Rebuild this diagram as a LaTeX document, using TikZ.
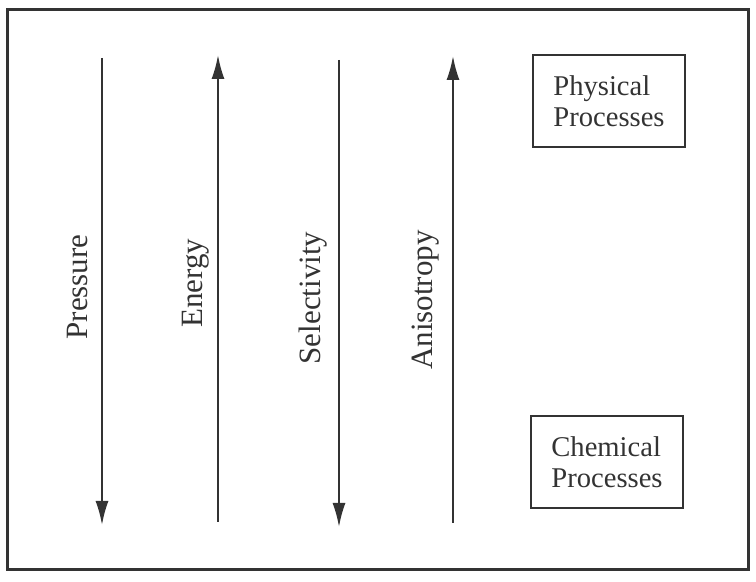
\documentclass[tikz,border=0pt]{standalone}
\usepackage{fontspec}
\setmainfont{Liberation Serif}
\usetikzlibrary{arrows.meta}
\definecolor{ink}{HTML}{333333}
\tikzset{
  procbox/.style={draw=ink,line width=1pt,align=left,minimum width=76pt,minimum height=46pt,
    font=\fontsize{14.3}{15.5}\selectfont,text=ink},
  trend/.style={draw=ink,line width=1pt,-{Latex[length=12pt,width=6.5pt]}},
  trendlabel/.style={rotate=90,anchor=base,font=\fontsize{15.5}{18}\selectfont,text=ink}
}
\begin{document}
\begin{tikzpicture}[x=0.5pt,y=-0.5pt]
\useasboundingbox (0,0) rectangle (756,582);
\draw[ink,line width=1.5pt] (7,10) rectangle (748,570);
% ends of the four trend arrows
\coordinate (prestop) at (102,58);   \coordinate (presbot) at (102,525);
\coordinate (enertop) at (218,55);   \coordinate (enerbot) at (218,522);
\coordinate (seletop) at (339,60);   \coordinate (selebot) at (339,527);
\coordinate (anistop) at (453,56);   \coordinate (anisbot) at (453,523);
\draw[trend] (prestop) -- (presbot);
\draw[trend] (enerbot) -- (enertop);
\draw[trend] (seletop) -- (selebot);
\draw[trend] (anisbot) -- (anistop);
% labels
\node[trendlabel] (pres) at (87,287) {Pressure};
\node[trendlabel] (ener) at (202,283) {Energy};
\node[trendlabel] (sele) at (320,298) {Selectivity};
\node[trendlabel] (anis) at (432,300) {Anisotropy};
% process boxes
\node[procbox] (phys) at (609,101) {Physical\\Processes};
\node[procbox] (chem) at (607,462) {Chemical\\Processes};
\end{tikzpicture}
\end{document}
